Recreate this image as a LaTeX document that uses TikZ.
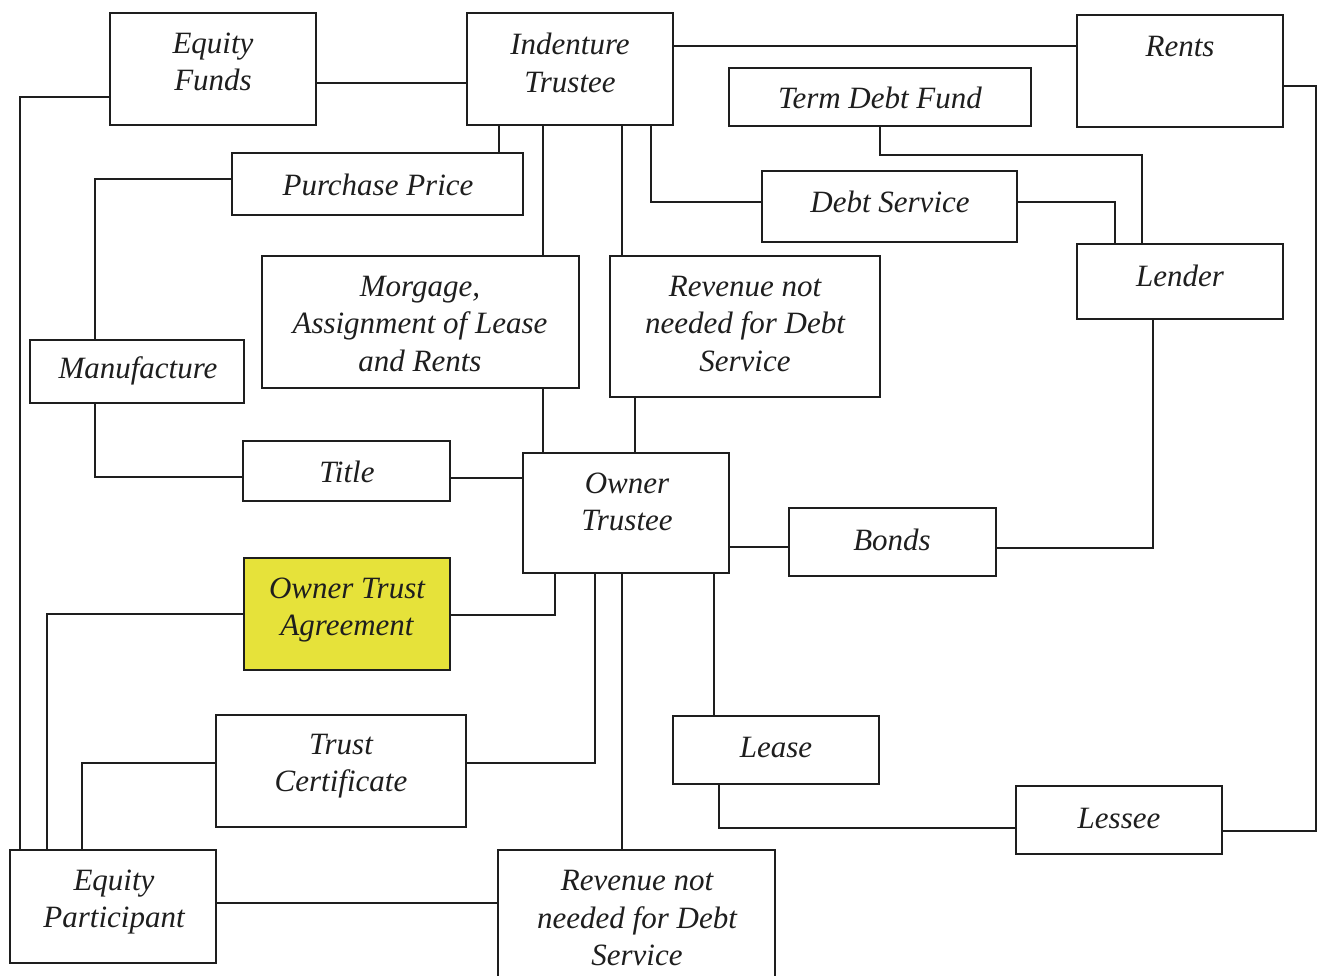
\documentclass[tikz,border=0pt]{standalone}
\usepackage{fontspec}
\setmainfont{Liberation Serif}
\definecolor{ink}{RGB}{30,30,30}
\definecolor{ylw}{RGB}{230,226,58}
\newcommand\dfont{\fontsize{31pt}{37.5pt}\selectfont\itshape}
\begin{document}
\begin{tikzpicture}[x=1pt,y=-1pt,
  box/.style={draw=ink, line width=1.6pt, inner sep=0pt, outer sep=0pt, rectangle},
  txt/.style={font=\dfont, text=ink, align=center, inner sep=0pt},
  link/.style={draw=ink, line width=1.4pt}]
\fill[white] (0,0) rectangle (1322,976);
\useasboundingbox (0,0) rectangle (1322,976);
% boxes
\node[box, minimum width=206pt, minimum height=112pt] (ef) at (213,69) {};
\node[box, minimum width=206pt, minimum height=112pt] (it) at (570,69) {};
\node[box, minimum width=206pt, minimum height=112pt] (rents) at (1180,71) {};
\node[box, minimum width=302pt, minimum height=58pt] (tdf) at (880,97) {};
\node[box, minimum width=291pt, minimum height=62pt] (pp) at (377.5,184) {};
\node[box, minimum width=255pt, minimum height=71pt] (ds) at (889.5,206.5) {};
\node[box, minimum width=206pt, minimum height=75pt] (lender) at (1180,281.5) {};
\node[box, minimum width=317pt, minimum height=132pt] (morg) at (420.5,322) {};
\node[box, minimum width=270pt, minimum height=141pt] (revt) at (745,326.5) {};
\node[box, minimum width=214pt, minimum height=63pt] (manuf) at (137,371.5) {};
\node[box, minimum width=207pt, minimum height=60pt] (title) at (346.5,471) {};
\node[box, minimum width=206pt, minimum height=120pt] (ot) at (626,513) {};
\node[box, minimum width=207pt, minimum height=68pt] (bonds) at (892.5,542) {};
\node[box, fill=ylw, minimum width=206pt, minimum height=112pt] (ota) at (347,614) {};
\node[box, minimum width=250pt, minimum height=112pt] (tc) at (341,771) {};
\node[box, minimum width=206pt, minimum height=68pt] (lease) at (776,750) {};
\node[box, minimum width=206pt, minimum height=68pt] (lessee) at (1119,820) {};
\node[box, minimum width=206pt, minimum height=113pt] (ep) at (113,906.5) {};
\node[box, minimum width=277pt, minimum height=146pt] (revb) at (636.5,923) {};
% texts
\node[txt] (ef-t) at (213,62) {Equity\\Funds};
\node[txt] (it-t) at (570,63) {Indenture\\Trustee};
\node[txt] (rents-t) at (1180,47) {Rents};
\node[txt] (tdf-t) at (880,98) {Term Debt Fund};
\node[txt] (pp-t) at (378,185) {Purchase Price};
\node[txt] (ds-t) at (890,202) {Debt Service};
\node[txt] (lender-t) at (1180,276) {Lender};
\node[txt] (morg-t) at (420,324) {Morgage,\\Assignment of Lease\\and Rents};
\node[txt] (revt-t) at (745,324) {Revenue not\\needed for Debt\\Service};
\node[txt] (manuf-t) at (138,371) {Manufacture};
\node[txt] (title-t) at (347,472) {Title};
\node[txt] (ot-t) at (627,502) {Owner\\Trustee};
\node[txt] (bonds-t) at (892,540) {Bonds};
\node[txt] (ota-t) at (347,610) {Owner Trust\\Agreement};
\node[txt] (tc-t) at (341,766) {Trust\\Certificate};
\node[txt] (lease-t) at (776,748) {Lease};
\node[txt] (lessee-t) at (1119,818) {Lessee};
\node[txt] (ep-t) at (114,902) {Equity\\Participant};
\node[txt] (revb-t) at (637,918) {Revenue not\\needed for Debt\\Service};
% connectors
\draw[link] (ef.east |- 0,83) -- (it.west |- 0,83);
\draw[link] (ef.west |- 0,97) -| (ep.north -| 20,0);
\draw[link] (it.east |- 0,46) -- (rents.west |- 0,46);
\draw[link] (it.south -| 499,0) -- (pp.north -| 499,0);
\draw[link] (pp.west |- 0,179) -| (manuf.north -| 95,0);
\draw[link] (it.south -| 543,0) -- (morg.north -| 543,0);
\draw[link] (morg.south -| 543,0) -- (ot.north -| 543,0);
\draw[link] (it.south -| 622,0) -- (revt.north -| 622,0);
\draw[link] (revt.south -| 635,0) -- (ot.north -| 635,0);
\draw[link] (it.south -| 651,0) |- (ds.west |- 0,202);
\draw[link] (ds.east |- 0,202) -| (lender.north -| 1115,0);
\coordinate (tdfc) at (1142,155);
\draw[link] (tdf.south -| 880,0) |- (tdfc) -- (lender.north -| 1142,0);
\coordinate (rc) at (1316,831);
\draw[link] (rents.east |- 0,86) -| (rc) -- (lessee.east |- 0,831);
\draw[link] (manuf.south -| 95,0) |- (title.west |- 0,477);
\draw[link] (title.east |- 0,478) -- (ot.west |- 0,478);
\draw[link] (ot.east |- 0,547) -- (bonds.west |- 0,547);
\draw[link] (bonds.east |- 0,548) -| (lender.south -| 1153,0);
\draw[link] (ota.east |- 0,615) -| (ot.south -| 555,0);
\draw[link] (ota.west |- 0,614) -| (ep.north -| 47,0);
\draw[link] (tc.east |- 0,763) -| (ot.south -| 595,0);
\draw[link] (tc.west |- 0,763) -| (ep.north -| 82,0);
\draw[link] (ot.south -| 622,0) -- (revb.north -| 622,0);
\draw[link] (ot.south -| 714,0) -- (lease.north -| 714,0);
\draw[link] (lease.south -| 719,0) |- (lessee.west |- 0,828);
\draw[link] (ep.east |- 0,903) -- (revb.west |- 0,903);
\end{tikzpicture}
\end{document}
